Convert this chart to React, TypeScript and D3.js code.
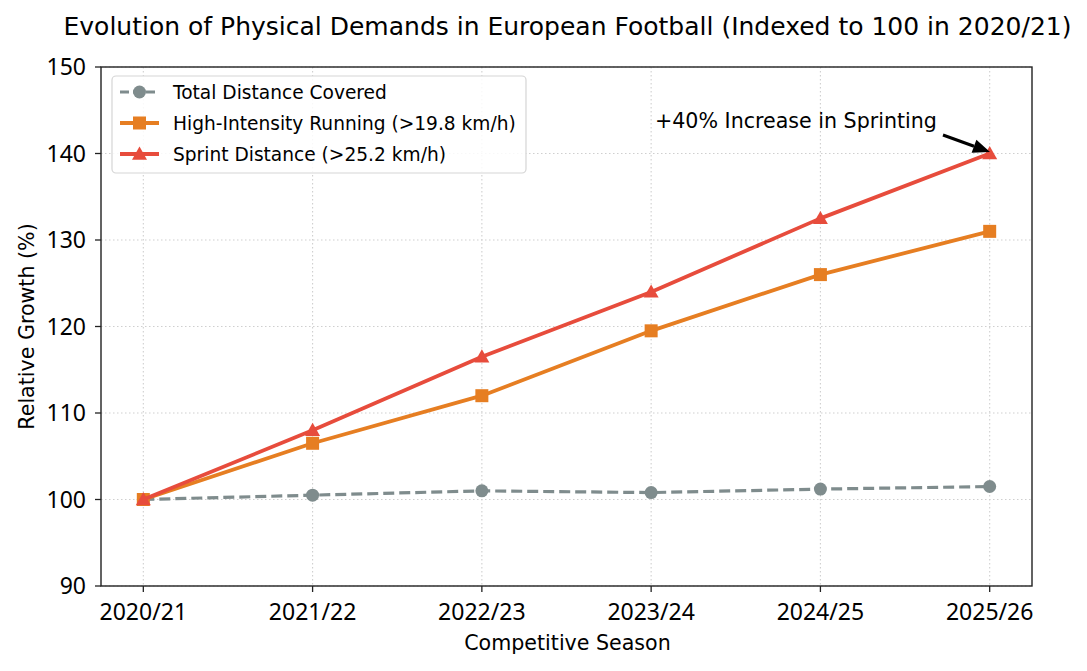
import React from "react";
import * as d3 from "d3";

const seasons = ["2020/21", "2021/22", "2022/23", "2023/24", "2024/25", "2025/26"];
const totalDistance = [100, 100.5, 101, 100.8, 101.2, 101.5];
const highIntensity = [100, 106.5, 112, 119.5, 126, 131];
const sprintDistance = [100, 108, 116.5, 124, 132.5, 140];
const yTicks = [90, 100, 110, 120, 130, 140, 150];

const W = 1087, H = 671;
const L = 101, R = 1032, T = 67, B = 586;
const tickFont = "'Noto Sans', 'DejaVu Sans', sans-serif";
const font = "'DejaVu Sans', sans-serif";

export default function App() {
  const x = d3.scaleLinear().domain([-0.25, 5.25]).range([L, R]);
  const y = d3.scaleLinear().domain([90, 150]).range([B, T]);
  const line = d3.line<number>().x((_, i) => x(i)).y((d) => y(d));

  const series = [
    { name: "Total Distance Covered", data: totalDistance, color: "#7f8c8d", width: 3.2, dash: "11,5", marker: "circle" },
    { name: "High-Intensity Running (>19.8 km/h)", data: highIntensity, color: "#e67e22", width: 3.8, dash: null, marker: "square" },
    { name: "Sprint Distance (>25.2 km/h)", data: sprintDistance, color: "#e74c3c", width: 3.8, dash: null, marker: "triangle" },
  ];

  const marker = (kind: string, cx: number, cy: number, color: string, key: any) => {
    if (kind === "circle") return <circle key={key} cx={cx} cy={cy} r={6.5} fill={color} />;
    if (kind === "square") return <rect key={key} x={cx - 6.5} y={cy - 6.5} width={13} height={13} fill={color} />;
    const s = 7.5;
    return <path key={key} d={`M${cx},${cy - s}L${cx + s},${cy + s * 0.75}L${cx - s},${cy + s * 0.75}Z`} fill={color} />;
  };

  const ax0 = 943, ay0 = 135, ax1 = 990, ay1 = 152;
  const ang = Math.atan2(ay1 - ay0, ax1 - ax0);
  const hl = 17, hw = 7;
  const bx = ax1 - hl * Math.cos(ang), by = ay1 - hl * Math.sin(ang);
  const px = -Math.sin(ang), py = Math.cos(ang);

  return (
    <svg width={W} height={H} style={{ display: "block", position: "absolute", left: 0, top: 0 }}>
      <rect width={W} height={H} fill="#fff" />
      <text x={(L + R) / 2 + 1} y={35} textAnchor="middle" fontFamily={font} fontSize={25} fill="#000">
        Evolution of Physical Demands in European Football (Indexed to 100 in 2020/21)
      </text>
      {/* grid */}
      {seasons.map((_, i) => (
        <line key={"gx" + i} x1={x(i)} x2={x(i)} y1={T} y2={B} stroke="#cfcfcf" strokeWidth={1.1} strokeDasharray="1.5,2.5" />
      ))}
      {yTicks.map((t) => (
        <line key={"gy" + t} x1={L} x2={R} y1={y(t)} y2={y(t)} stroke="#cfcfcf" strokeWidth={1.1} strokeDasharray="1.5,2.5" />
      ))}
      {/* series */}
      {series.map((s) => (
        <g key={s.name}>
          <path d={line(s.data) || ""} fill="none" stroke={s.color} strokeWidth={s.width} strokeDasharray={s.dash || undefined} strokeLinejoin="round" />
          {s.data.map((d, i) => marker(s.marker, x(i), y(d), s.color, i))}
        </g>
      ))}
      {/* axes frame */}
      <rect x={L} y={T} width={R - L} height={B - T} fill="none" stroke="#222" strokeWidth={1.4} />
      {/* ticks */}
      {seasons.map((s, i) => (
        <g key={"tx" + i}>
          <line x1={x(i)} x2={x(i)} y1={B} y2={B + 6} stroke="#222" strokeWidth={1.3} />
          <text x={x(i)} y={620} textAnchor="middle" fontFamily={tickFont} fontSize={23} fill="#000">{s}</text>
        </g>
      ))}
      {yTicks.map((t) => (
        <g key={"ty" + t}>
          <line x1={L - 6} x2={L} y1={y(t)} y2={y(t)} stroke="#222" strokeWidth={1.3} />
          <text x={L - 15} y={y(t)} dy="0.36em" textAnchor="end" fontFamily={tickFont} fontSize={23} fill="#000">{t}</text>
        </g>
      ))}
      <text x={(L + R) / 2 + 1} y={650} textAnchor="middle" fontFamily={font} fontSize={20.6} fill="#000">Competitive Season</text>
      <text transform={`translate(34,${(T + B) / 2}) rotate(-90)`} textAnchor="middle" fontFamily={font} fontSize={20.6} fill="#000">Relative Growth (%)</text>
      {/* annotation */}
      <text x={655} y={128} fontFamily={font} fontSize={20.6} fill="#000">+40% Increase in Sprinting</text>
      <line x1={ax0} y1={ay0} x2={bx} y2={by} stroke="#000" strokeWidth={3} />
      <path d={`M${ax1},${ay1}L${bx + px * hw},${by + py * hw}L${bx - px * hw},${by - py * hw}Z`} fill="#000" />
      {/* legend */}
      <rect x={112} y={76} width={414} height={97} rx={4} fill="#fff" fillOpacity={0.85} stroke="#d5d5d5" strokeWidth={1.2} />
      {series.map((s, i) => {
        const ly = 92 + i * 31;
        return (
          <g key={"lg" + i}>
            <line x1={120} x2={159} y1={ly} y2={ly} stroke={s.color} strokeWidth={s.width} strokeDasharray={s.dash ? "9,4" : undefined} />
            {marker(s.marker, 139.5, ly, s.color, "m")}
            <text x={173} y={ly} dy="0.36em" fontFamily={font} fontSize={18.6} fill="#000">{s.name}</text>
          </g>
        );
      })}
    </svg>
  );
}
